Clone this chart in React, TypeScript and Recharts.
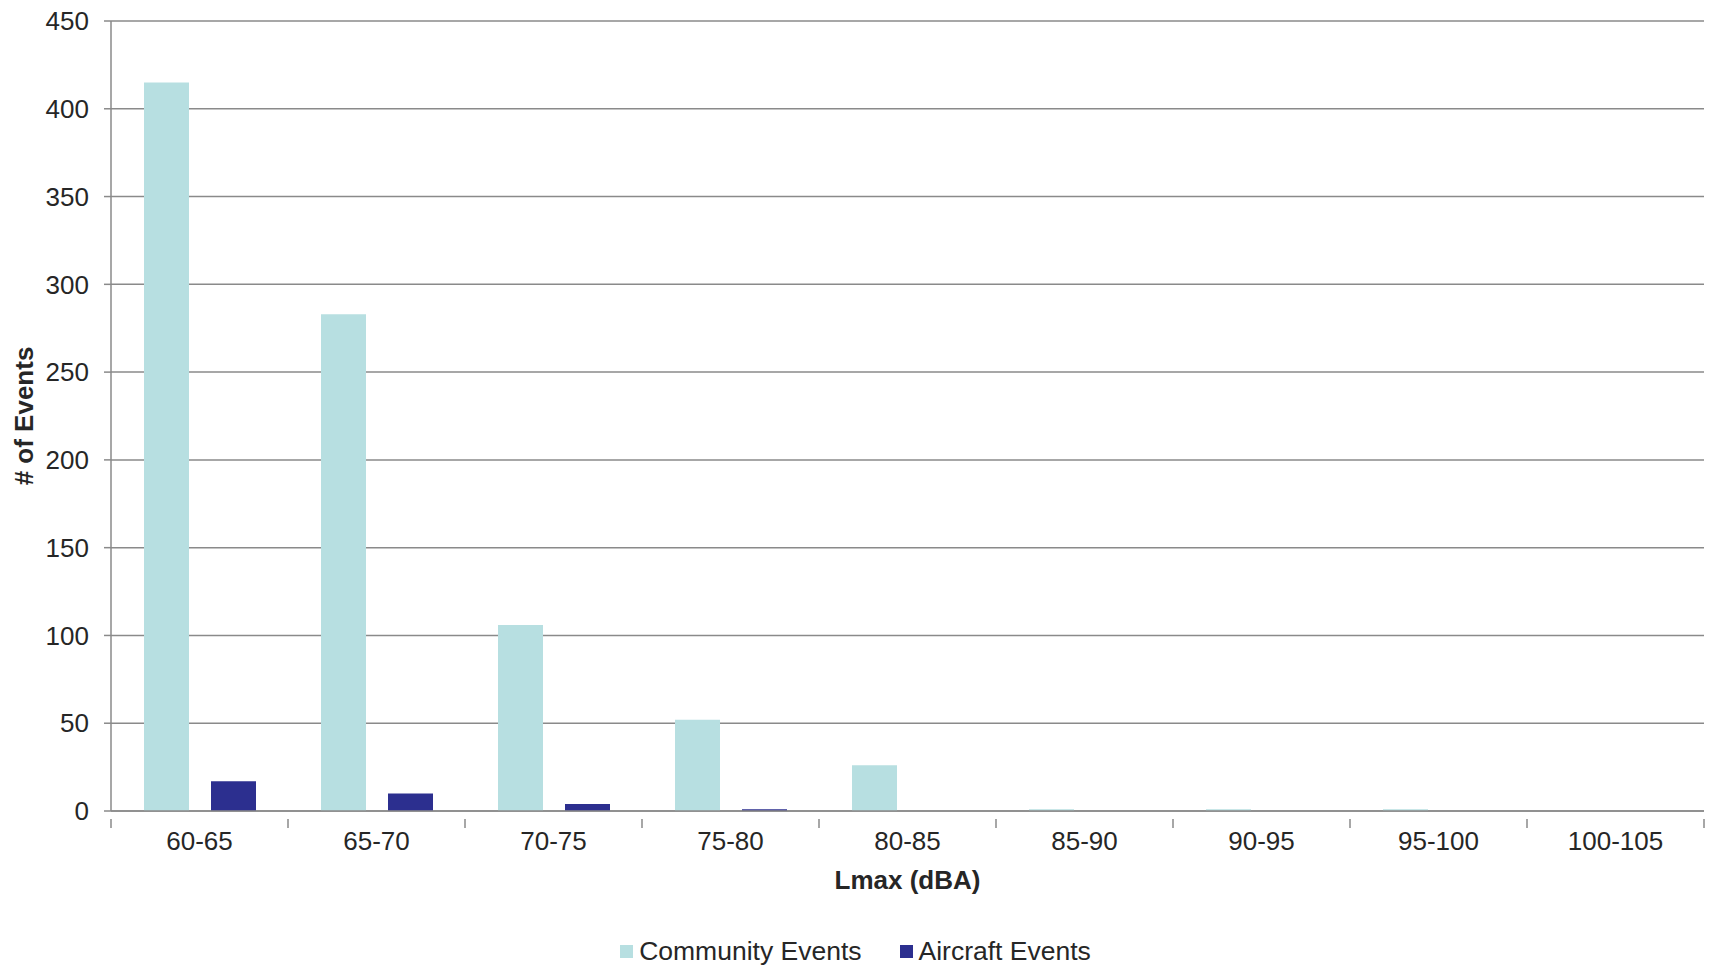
import { Bar, BarChart, CartesianGrid, Legend, XAxis, YAxis } from "recharts";

const categories = ["60-65", "65-70", "70-75", "75-80", "80-85", "85-90", "90-95", "95-100", "100-105"];
const communityEvents = [415, 283, 106, 52, 26, 1, 1, 1, 0];
const aircraftEvents = [17, 10, 4, 1, 0, 0, 0, 0, 0];
const yTicks = [0, 50, 100, 150, 200, 250, 300, 350, 400, 450];

const data = categories.map((range, i) => ({
  range,
  community: communityEvents[i],
  aircraft: aircraftEvents[i],
}));

const W = 1711;
const H = 968;
const MARGIN = { top: 21, right: 7, left: 0, bottom: 1 };
const Y_AXIS_WIDTH = 111;
const BAND = (W - MARGIN.left - MARGIN.right - Y_AXIS_WIDTH) / categories.length;

const FONT = "'Liberation Sans', Arial, sans-serif";
const TEXT = "#262626";
const GRID = "#8a8a8a";
const COMMUNITY = "#b7dfe1";
const AIRCRAFT = "#2c2f8f";

function RangeTick({ x, y, payload, index }: any) {
  const left = x - BAND / 2;
  const right = x + BAND / 2;
  return (
    <g>
      <line x1={left} y1={y} x2={left} y2={y + 9} stroke={GRID} strokeWidth={1.5} />
      {index === categories.length - 1 && (
        <line x1={right} y1={y} x2={right} y2={y + 9} stroke={GRID} strokeWidth={1.5} />
      )}
      <text x={x} y={y + 31} textAnchor="middle" fill={TEXT} fontSize={26} fontFamily={FONT}>
        {payload.value}
      </text>
    </g>
  );
}

function LegendContent() {
  const items = [
    { label: "Community Events", color: COMMUNITY },
    { label: "Aircraft Events", color: AIRCRAFT },
  ];
  return (
    <div style={{ display: "flex", justifyContent: "center", gap: 38, fontFamily: FONT, fontSize: 26.5, color: TEXT }}>
      {items.map((it) => (
        <div key={it.label} style={{ display: "flex", alignItems: "center" }}>
          <span style={{ width: 13, height: 13, background: it.color, marginRight: 6, display: "inline-block" }} />
          <span>{it.label}</span>
        </div>
      ))}
    </div>
  );
}

export default function App() {
  return (
    <div style={{ position: "absolute", left: 0, top: 0, width: W, height: H, background: "#fff" }}>
      <BarChart width={W} height={H} data={data} margin={MARGIN} barSize={45} barGap={22}>
        <CartesianGrid vertical={false} stroke={GRID} strokeWidth={1.5} />
        <XAxis
          dataKey="range"
          height={125}
          axisLine={{ stroke: GRID, strokeWidth: 1.5 }}
          tickLine={false}
          tick={<RangeTick />}
          interval={0}
          label={{
            value: "Lmax (dBA)",
            position: "insideBottom",
            offset: 47,
            style: { fontFamily: FONT, fontSize: 26, fontWeight: "bold", fill: TEXT },
          }}
        />
        <YAxis
          width={Y_AXIS_WIDTH}
          domain={[0, 450]}
          ticks={yTicks}
          interval={0}
          axisLine={{ stroke: GRID, strokeWidth: 1.5 }}
          tickLine={{ stroke: GRID, strokeWidth: 1.5 }}
          tickSize={7}
          tickMargin={15}
          tick={{ fill: TEXT, fontSize: 26, fontFamily: FONT }}
          label={{
            value: "# of Events",
            angle: -90,
            position: "insideLeft",
            offset: 24,
            style: { fontFamily: FONT, fontSize: 26, fontWeight: "bold", fill: TEXT, textAnchor: "middle" },
          }}
        />
        <Legend verticalAlign="bottom" content={<LegendContent />} wrapperStyle={{ left: 0, width: W }} />
        <Bar dataKey="community" name="Community Events" fill={COMMUNITY} isAnimationActive={false} />
        <Bar dataKey="aircraft" name="Aircraft Events" fill={AIRCRAFT} isAnimationActive={false} />
      </BarChart>
    </div>
  );
}
